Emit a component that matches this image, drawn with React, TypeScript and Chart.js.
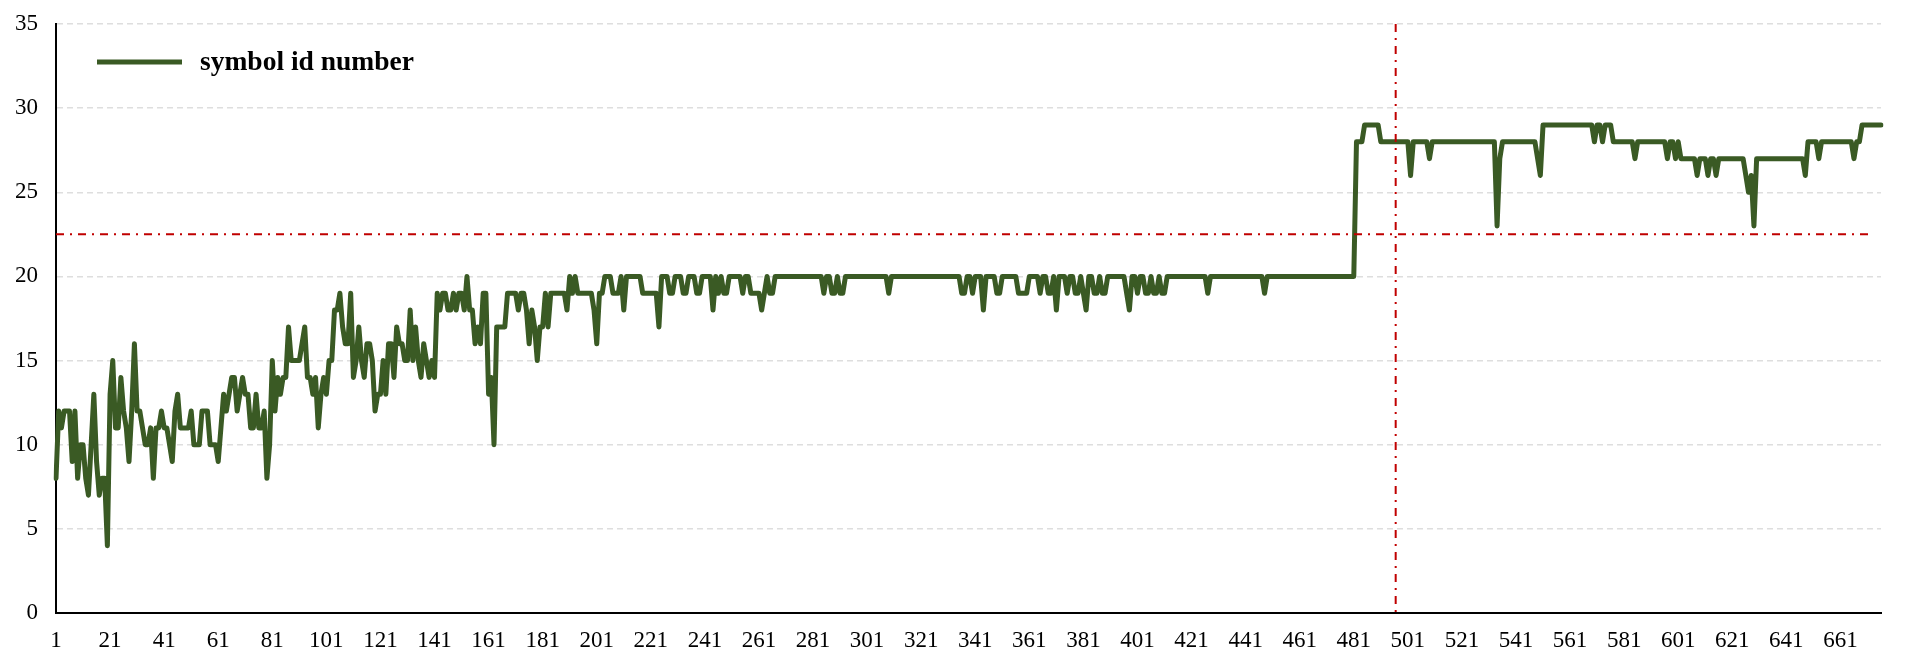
import React, { useEffect, useRef } from 'react';
import { Chart, registerables } from 'chart.js';

Chart.register(...registerables);

const seriesName = 'symbol id number';

const symbolIds: number[] = [
  8, 12, 11, 12, 12, 12, 9, 12, 8, 10, 10, 8, 7, 10, 13, 9, 7, 8, 8, 4,
  13, 15, 11, 11, 14, 12, 11, 9, 12, 16, 12, 12, 11, 10, 10, 11, 8, 11, 11, 12,
  11, 11, 10, 9, 12, 13, 11, 11, 11, 11, 12, 10, 10, 10, 12, 12, 12, 10, 10, 10,
  9, 11, 13, 12, 13, 14, 14, 12, 13, 14, 13, 13, 11, 11, 13, 11, 11, 12, 8, 10,
  15, 12, 14, 13, 14, 14, 17, 15, 15, 15, 15, 16, 17, 14, 14, 13, 14, 11, 13, 14,
  13, 15, 15, 18, 18, 19, 17, 16, 16, 19, 14, 15, 17, 15, 14, 16, 16, 15, 12, 13,
  13, 15, 13, 16, 16, 14, 17, 16, 16, 15, 15, 18, 15, 17, 15, 14, 16, 15, 14, 15,
  14, 19, 18, 19, 19, 18, 18, 19, 18, 19, 19, 18, 20, 18, 18, 16, 17, 16, 19, 19,
  13, 14, 10, 17, 17, 17, 17, 19, 19, 19, 19, 18, 19, 19, 18, 16, 18, 17, 15, 17,
  17, 19, 17, 19, 19, 19, 19, 19, 19, 18, 20, 19, 20, 19, 19, 19, 19, 19, 19, 18,
  16, 19, 19, 20, 20, 20, 19, 19, 19, 20, 18, 20, 20, 20, 20, 20, 20, 19, 19, 19,
  19, 19, 19, 17, 20, 20, 20, 19, 19, 20, 20, 20, 19, 19, 20, 20, 20, 19, 19, 20,
  20, 20, 20, 18, 20, 19, 20, 19, 19, 20, 20, 20, 20, 20, 19, 20, 20, 19, 19, 19,
  19, 18, 19, 20, 19, 19, 20, 20, 20, 20, 20, 20, 20, 20, 20, 20, 20, 20, 20, 20,
  20, 20, 20, 20, 19, 20, 20, 19, 19, 20, 19, 19, 20, 20, 20, 20, 20, 20, 20, 20,
  20, 20, 20, 20, 20, 20, 20, 20, 19, 20, 20, 20, 20, 20, 20, 20, 20, 20, 20, 20,
  20, 20, 20, 20, 20, 20, 20, 20, 20, 20, 20, 20, 20, 20, 20, 19, 19, 20, 20, 19,
  20, 20, 20, 18, 20, 20, 20, 20, 19, 19, 20, 20, 20, 20, 20, 20, 19, 19, 19, 19,
  20, 20, 20, 20, 19, 20, 20, 19, 19, 20, 18, 20, 20, 20, 19, 20, 20, 19, 19, 20,
  19, 18, 20, 20, 19, 19, 20, 19, 19, 20, 20, 20, 20, 20, 20, 20, 19, 18, 20, 20,
  19, 20, 20, 19, 19, 20, 19, 19, 20, 19, 19, 20, 20, 20, 20, 20, 20, 20, 20, 20,
  20, 20, 20, 20, 20, 20, 19, 20, 20, 20, 20, 20, 20, 20, 20, 20, 20, 20, 20, 20,
  20, 20, 20, 20, 20, 20, 20, 19, 20, 20, 20, 20, 20, 20, 20, 20, 20, 20, 20, 20,
  20, 20, 20, 20, 20, 20, 20, 20, 20, 20, 20, 20, 20, 20, 20, 20, 20, 20, 20, 20,
  20, 28, 28, 28, 29, 29, 29, 29, 29, 29, 28, 28, 28, 28, 28, 28, 28, 28, 28, 28,
  28, 26, 28, 28, 28, 28, 28, 28, 27, 28, 28, 28, 28, 28, 28, 28, 28, 28, 28, 28,
  28, 28, 28, 28, 28, 28, 28, 28, 28, 28, 28, 28, 28, 23, 27, 28, 28, 28, 28, 28,
  28, 28, 28, 28, 28, 28, 28, 28, 27, 26, 29, 29, 29, 29, 29, 29, 29, 29, 29, 29,
  29, 29, 29, 29, 29, 29, 29, 29, 29, 28, 29, 29, 28, 29, 29, 29, 28, 28, 28, 28,
  28, 28, 28, 28, 27, 28, 28, 28, 28, 28, 28, 28, 28, 28, 28, 28, 27, 28, 28, 27,
  28, 27, 27, 27, 27, 27, 27, 26, 27, 27, 27, 26, 27, 27, 26, 27, 27, 27, 27, 27,
  27, 27, 27, 27, 27, 26, 25, 26, 23, 27, 27, 27, 27, 27, 27, 27, 27, 27, 27, 27,
  27, 27, 27, 27, 27, 27, 27, 26, 28, 28, 28, 28, 27, 28, 28, 28, 28, 28, 28, 28,
  28, 28, 28, 28, 28, 27, 28, 28, 29, 29, 29, 29, 29, 29, 29, 29,
];

const categories: string[] = symbolIds.map((_, i) => String(i + 1));
const labelEvery = 20;
const yMin = 0;
const yMax = 35;
const yStep = 5;
const thresholdValue = 22.5;
const markerPosition = 495.5; // position on the category axis (0-based index)

const lineColor = '#3A5A24';
const refColor = '#C00000';
const fontFamily = '"Liberation Serif", "Times New Roman", serif';

export default function App() {
  const canvasRef = useRef<HTMLCanvasElement>(null);

  useEffect(() => {
    if (!canvasRef.current) return;

    const refLines = {
      id: 'refLines',
      afterDatasetsDraw(chart: any) {
        const { ctx, chartArea, scales } = chart;
        const y = scales.y.getPixelForValue(thresholdValue);
        const x = scales.x.getPixelForValue(markerPosition);
        ctx.save();
        ctx.strokeStyle = refColor;
        ctx.lineWidth = 2;
        ctx.setLineDash([8, 6, 2, 6]);
        ctx.beginPath();
        ctx.moveTo(chartArea.left, y);
        ctx.lineTo(chartArea.right - 10, y);
        ctx.stroke();
        ctx.beginPath();
        ctx.moveTo(x, chartArea.top);
        ctx.lineTo(x, chartArea.bottom);
        ctx.stroke();
        ctx.restore();
      },
    };

    const insideLegend = {
      id: 'insideLegend',
      afterDraw(chart: any) {
        const { ctx, chartArea } = chart;
        const ds = chart.data.datasets[0];
        const x0 = chartArea.left + 41;
        const y0 = chartArea.top + 38;
        ctx.save();
        ctx.strokeStyle = ds.borderColor;
        ctx.lineWidth = 5;
        ctx.beginPath();
        ctx.moveTo(x0, y0);
        ctx.lineTo(x0 + 85, y0);
        ctx.stroke();
        ctx.fillStyle = '#000';
        ctx.font = `bold 27.5px ${fontFamily}`;
        ctx.textBaseline = 'middle';
        ctx.textAlign = 'left';
        ctx.fillText(ds.label, x0 + 103, y0 + 1);
        ctx.restore();
      },
    };

    const chart = new Chart(canvasRef.current, {
      type: 'line',
      data: {
        labels: categories,
        datasets: [
          {
            label: seriesName,
            data: symbolIds,
            borderColor: lineColor,
            backgroundColor: lineColor,
            borderWidth: 5,
            pointRadius: 0,
            tension: 0,
            borderJoinStyle: 'round',
            borderCapStyle: 'round',
            fill: false,
          },
        ],
      },
      options: {
        animation: false,
        responsive: true,
        maintainAspectRatio: false,
        devicePixelRatio: 1,
        layout: { padding: { left: 0, right: 39, top: 24, bottom: 0 } },
        plugins: {
          legend: { display: false },
          tooltip: { enabled: false },
        },
        scales: {
          x: {
            type: 'category',
            offset: false,
            grid: { display: false, drawTicks: false },
            border: { display: true, color: '#000', width: 2 },
            ticks: {
              autoSkip: false,
              maxRotation: 0,
              minRotation: 0,
              padding: 14,
              color: '#000',
              font: { family: fontFamily, size: 23 },
              callback: function (this: any, value: any, index: number) {
                return index % labelEvery === 0 ? this.getLabelForValue(value) : null;
              },
            },
            afterFit: (scale: any) => {
              scale.height = 55;
            },
          },
          y: {
            min: yMin,
            max: yMax,
            grid: {
              drawTicks: false,
              lineWidth: 1.5,
              color: (c: any) => (c.tick && c.tick.value === 0 ? 'rgba(0,0,0,0)' : '#dedede'),
            },
            border: { display: true, color: '#000', width: 2, dash: [6, 4] },
            ticks: {
              stepSize: yStep,
              padding: 18,
              color: '#000',
              font: { family: fontFamily, size: 23 },
            },
            afterFit: (scale: any) => {
              scale.width = 56;
              scale.paddingTop = 0;
              scale.paddingBottom = 0;
            },
          },
        },
      },
      plugins: [refLines, insideLegend],
    } as any);

    return () => chart.destroy();
  }, []);

  return (
    <div style={{ position: 'fixed', left: 0, top: 0, width: 1920, height: 668, background: '#fff' }}>
      <canvas ref={canvasRef} />
    </div>
  );
}
